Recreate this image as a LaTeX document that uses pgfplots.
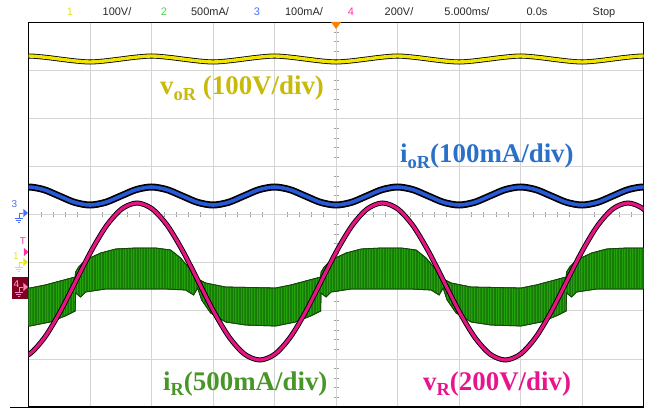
\documentclass[border=0pt]{standalone}
\usepackage{pgfplots}
\pgfplotsset{compat=1.18}
\usetikzlibrary{patterns}
\usepackage{fontspec}
\setmainfont{Liberation Serif}
\newfontfamily\hdr{Liberation Sans}
\definecolor{gridc}{RGB}{212,212,212}
\definecolor{tickc}{RGB}{160,160,160}
\definecolor{yel}{RGB}{240,228,0}
\definecolor{blu}{RGB}{40,90,215}
\definecolor{pnk}{RGB}{228,20,130}
\definecolor{grn}{RGB}{36,162,12}
\definecolor{grnd}{RGB}{24,122,8}
\definecolor{grne}{RGB}{20,70,10}
\definecolor{volab}{RGB}{200,186,10}
\definecolor{iolab}{RGB}{40,112,200}
\definecolor{irlab}{RGB}{72,150,40}
\definecolor{vrlab}{RGB}{232,20,140}
\definecolor{hy}{RGB}{230,230,40}
\definecolor{hg}{RGB}{70,220,70}
\definecolor{hb}{RGB}{70,110,255}
\definecolor{hp}{RGB}{255,50,160}
\definecolor{htx}{RGB}{40,40,40}
\definecolor{box4}{RGB}{128,0,32}
\pgfdeclarepatternformonly{finev}{\pgfqpoint{-0.5pt}{-0.5pt}}{\pgfqpoint{0.5pt}{1.5pt}}{\pgfqpoint{1.6pt}{1pt}}{%
  \pgfsetlinewidth{0.6pt}\pgfpathmoveto{\pgfqpoint{0pt}{-0.5pt}}\pgfpathlineto{\pgfqpoint{0pt}{1.5pt}}\pgfusepath{stroke}}
\begin{document}
\begin{tikzpicture}
\path[use as bounding box] (-28.5bp,-3bp) rectangle (620.5bp,407bp);
% grid and centre ticks (division coordinates)
\begin{axis}[at={(0,0)}, anchor=south west, scale only axis,
  width=615bp, height=384.5bp,
  xmin=-5, xmax=5, ymin=-4, ymax=4, enlargelimits=false,
  axis lines=middle, axis line style={-, draw=gridc, line width=0.8bp},
  xtick={-5,...,5}, ytick={-4,...,4},
  minor x tick num=4, minor y tick num=4,
  xticklabels={}, yticklabels={},
  grid=major, grid style={gridc, line width=0.8bp},
  tick align=center, major tick length=0pt, minor tick length=5bp,
  tick style={tickc, line width=0.6bp}]
\addplot[draw=none] coordinates {(0,0)};
\end{axis}
% data (pixel coordinates of the screen)
\begin{axis}[at={(0,0)}, anchor=south west, scale only axis,
  width=615bp, height=384.5bp,
  xmin=28.5, xmax=643.5, ymin=22.5, ymax=407, y dir=reverse,
  enlargelimits=false, xtick=\empty, ytick=\empty,
  axis line style={black, line width=1.3bp}]
% iR band: upper envelope left to right, then lower envelope right to left
\addplot[fill=grn, draw=grne, line width=0.8bp, postaction={pattern=finev, pattern color=grnd}] coordinates {
(-19.88,287) (30.12,288) (45.12,285) (60.12,281) (75.12,277)
(75.62,272) (78.62,267) (85.62,260) (100.62,253) (115.62,249) (135.62,248) (155.62,248) (170.62,250) (180.62,258) (190.62,270) (197.62,284) (199.62,280) (205.62,283) (225.62,287) (275.62,288) (290.62,285) (305.62,281) (320.62,277)
(321.12,272) (324.12,267) (331.12,260) (346.12,253) (361.12,249) (381.12,248) (401.12,248) (416.12,250) (426.12,258) (436.12,270) (443.12,284) (445.12,280) (451.12,283) (471.12,287) (521.12,288) (536.12,285) (551.12,281) (566.12,277)
(566.62,272) (569.62,267) (576.62,260) (591.62,253) (606.62,249) (626.62,248) (646.62,248) (661.62,250)
(661.62,289) (656.62,289) (626.62,289) (596.62,289) (576.62,292) (571.62,297) (566.62,293)
(566.12,311) (556.12,316) (541.12,322) (521.12,326) (491.12,325) (471.12,322) (456.12,313) (447.12,300) (443.12,288) (439.12,295) (431.12,290) (411.12,289) (381.12,289) (351.12,289) (331.12,292) (326.12,297) (321.12,293)
(320.62,311) (310.62,316) (295.62,322) (275.62,326) (245.62,325) (225.62,322) (210.62,313) (201.62,300) (197.62,288) (193.62,295) (185.62,290) (165.62,289) (135.62,289) (105.62,289) (85.62,292) (80.62,297) (75.62,293)
(75.12,311) (65.12,316) (50.12,322) (30.12,326) (0.12,325) (-19.88,322)
};
% vR
\addplot[black, line width=5bp, smooth] coordinates {
(14.25,360) (29.59,354.03) (44.94,337.01) (60.28,311.54) (75.62,281.5) (90.97,251.46) (106.31,225.99) (121.66,208.97) (137,203) (152.34,208.97) (167.69,225.99) (183.03,251.46) (198.38,281.5) (213.72,311.54) (229.06,337.01) (244.41,354.03) (259.75,360) (275.09,354.03) (290.44,337.01) (305.78,311.54) (321.12,281.5) (336.47,251.46) (351.81,225.99) (367.16,208.97) (382.5,203) (397.84,208.97) (413.19,225.99) (428.53,251.46) (443.88,281.5) (459.22,311.54) (474.56,337.01) (489.91,354.03) (505.25,360) (520.59,354.03) (535.94,337.01) (551.28,311.54) (566.62,281.5) (581.97,251.46) (597.31,225.99) (612.66,208.97) (628,203) (643.34,208.97) (658.69,225.99)
};
\addplot[pnk, line width=3.2bp, smooth] coordinates {
(14.25,360) (29.59,354.03) (44.94,337.01) (60.28,311.54) (75.62,281.5) (90.97,251.46) (106.31,225.99) (121.66,208.97) (137,203) (152.34,208.97) (167.69,225.99) (183.03,251.46) (198.38,281.5) (213.72,311.54) (229.06,337.01) (244.41,354.03) (259.75,360) (275.09,354.03) (290.44,337.01) (305.78,311.54) (321.12,281.5) (336.47,251.46) (351.81,225.99) (367.16,208.97) (382.5,203) (397.84,208.97) (413.19,225.99) (428.53,251.46) (443.88,281.5) (459.22,311.54) (474.56,337.01) (489.91,354.03) (505.25,360) (520.59,354.03) (535.94,337.01) (551.28,311.54) (566.62,281.5) (581.97,251.46) (597.31,225.99) (612.66,208.97) (628,203) (643.34,208.97) (658.69,225.99)
};
% ioR
\addplot[black, line width=7bp, smooth] coordinates {
(13.125,189.64) (28.5,187) (43.875,189.64) (59.25,196) (74.625,202.36) (90,205) (105.375,202.36) (120.75,196) (136.125,189.64) (151.5,187) (166.875,189.64) (182.25,196) (197.625,202.36) (213,205) (228.375,202.36) (243.75,196) (259.125,189.64) (274.5,187) (289.875,189.64) (305.25,196) (320.625,202.36) (336,205) (351.375,202.36) (366.75,196) (382.125,189.64) (397.5,187) (412.875,189.64) (428.25,196) (443.625,202.36) (459,205) (474.375,202.36) (489.75,196) (505.125,189.64) (520.5,187) (535.875,189.64) (551.25,196) (566.625,202.36) (582,205) (597.375,202.36) (612.75,196) (628.125,189.64) (643.5,187) (658.875,189.64)
};
\addplot[blu, line width=3.6bp, smooth] coordinates {
(13.125,189.64) (28.5,187) (43.875,189.64) (59.25,196) (74.625,202.36) (90,205) (105.375,202.36) (120.75,196) (136.125,189.64) (151.5,187) (166.875,189.64) (182.25,196) (197.625,202.36) (213,205) (228.375,202.36) (243.75,196) (259.125,189.64) (274.5,187) (289.875,189.64) (305.25,196) (320.625,202.36) (336,205) (351.375,202.36) (366.75,196) (382.125,189.64) (397.5,187) (412.875,189.64) (428.25,196) (443.625,202.36) (459,205) (474.375,202.36) (489.75,196) (505.125,189.64) (520.5,187) (535.875,189.64) (551.25,196) (566.625,202.36) (582,205) (597.375,202.36) (612.75,196) (628.125,189.64) (643.5,187) (658.875,189.64)
};
% voR
\addplot[black, line width=5bp, smooth] coordinates {
(13.125,57.12) (28.5,56) (43.875,57.12) (59.25,59) (74.625,60.88) (90,62) (105.375,60.88) (120.75,59) (136.125,57.12) (151.5,56) (166.875,57.12) (182.25,59) (197.625,60.88) (213,62) (228.375,60.88) (243.75,59) (259.125,57.12) (274.5,56) (289.875,57.12) (305.25,59) (320.625,60.88) (336,62) (351.375,60.88) (366.75,59) (382.125,57.12) (397.5,56) (412.875,57.12) (428.25,59) (443.625,60.88) (459,62) (474.375,60.88) (489.75,59) (505.125,57.12) (520.5,56) (535.875,57.12) (551.25,59) (566.625,60.88) (582,62) (597.375,60.88) (612.75,59) (628.125,57.12) (643.5,56) (658.875,57.12)
};
\addplot[yel, line width=3.4bp, smooth] coordinates {
(13.125,57.12) (28.5,56) (43.875,57.12) (59.25,59) (74.625,60.88) (90,62) (105.375,60.88) (120.75,59) (136.125,57.12) (151.5,56) (166.875,57.12) (182.25,59) (197.625,60.88) (213,62) (228.375,60.88) (243.75,59) (259.125,57.12) (274.5,56) (289.875,57.12) (305.25,59) (320.625,60.88) (336,62) (351.375,60.88) (366.75,59) (382.125,57.12) (397.5,56) (412.875,57.12) (428.25,59) (443.625,60.88) (459,62) (474.375,60.88) (489.75,59) (505.125,57.12) (520.5,56) (535.875,57.12) (551.25,59) (566.625,60.88) (582,62) (597.375,60.88) (612.75,59) (628.125,57.12) (643.5,56) (658.875,57.12)
};
\end{axis}
% bottom shadow line
\draw[black, line width=1.5bp] (-18bp,-0.5bp) -- (0,-0.5bp);
% trigger marker
\fill[orange] (302.5bp,385bp) -- (312.5bp,385bp) -- (307.5bp,378bp) -- cycle;
% header
\begin{scope}[font=\hdr\fontsize{11}{12}\selectfont, every node/.style={inner sep=0pt, anchor=base}]
\node[text=hy]  at (41.5bp,391bp) {1};
\node[text=htx] at (88.5bp,391bp) {100V/};
\node[text=hg]  at (135.5bp,391bp) {2};
\node[text=htx] at (181.5bp,391bp) {500mA/};
\node[text=hb]  at (228.5bp,391bp) {3};
\node[text=htx] at (275.5bp,391bp) {100mA/};
\node[text=hp]  at (322.5bp,391bp) {4};
\node[text=htx] at (370.5bp,391bp) {200V/};
\node[text=htx] at (438.5bp,391bp) {5.000ms/};
\node[text=htx] at (508.5bp,391bp) {0.0s};
\node[text=htx] at (575.5bp,391bp) {Stop};
\end{scope}
% channel markers on the left
\fill[box4] (-16.5bp,108bp) rectangle (-0.5bp,130bp);
\begin{scope}[font=\hdr\fontsize{10}{11}\selectfont, every node/.style={inner sep=0pt}]
\node[text=hb] at (-14bp,203bp) {3};
\node[text=hp] at (-5.5bp,166bp) {T};
\node[text=hy] at (-12.5bp,151bp) {1};
\node[text=hp!40] at (-12bp,123bp) {4};
\end{scope}
\foreach \yy/\cc in {194/hb, 145/hy, 120/hp!60} {
  \begin{scope}[shift={(-9.5bp,\yy bp)}, line width=0.8bp]
    \draw[\cc] (0,0) -- (4.5bp,0);
    \draw[\cc] (0,0) -- (0,-5bp);
    \draw[\cc] (-4bp,-5bp) -- (4bp,-5bp);
    \draw[\cc] (-2.5bp,-7bp) -- (2.5bp,-7bp);
    \draw[\cc] (-1bp,-9bp) -- (1bp,-9bp);
    \fill[\cc] (4.5bp,4bp) -- (9bp,0) -- (4.5bp,-4bp) -- cycle;
  \end{scope}
}
\fill[hp] (-4.5bp,159bp) -- (0bp,155bp) -- (-4.5bp,151bp) -- cycle;
% labels
\begin{scope}[every node/.style={inner sep=0pt, anchor=base west, font=\bfseries\fontsize{27}{30}\selectfont}]
\node[text=volab] at (131.5bp,312bp) {v\raisebox{-0.22em}{\fontsize{18.5}{18.5}\selectfont oR} (100V/div)};
\node[text=iolab] at (371.5bp,244bp) {i\raisebox{-0.22em}{\fontsize{18.5}{18.5}\selectfont oR}(100mA/div)};
\node[text=irlab] at (134.5bp,17bp) {i\raisebox{-0.22em}{\fontsize{18.5}{18.5}\selectfont R}(500mA/div)};
\node[text=vrlab] at (394.5bp,17bp) {v\raisebox{-0.22em}{\fontsize{18.5}{18.5}\selectfont R}(200V/div)};
\end{scope}
\end{tikzpicture}
\end{document}
